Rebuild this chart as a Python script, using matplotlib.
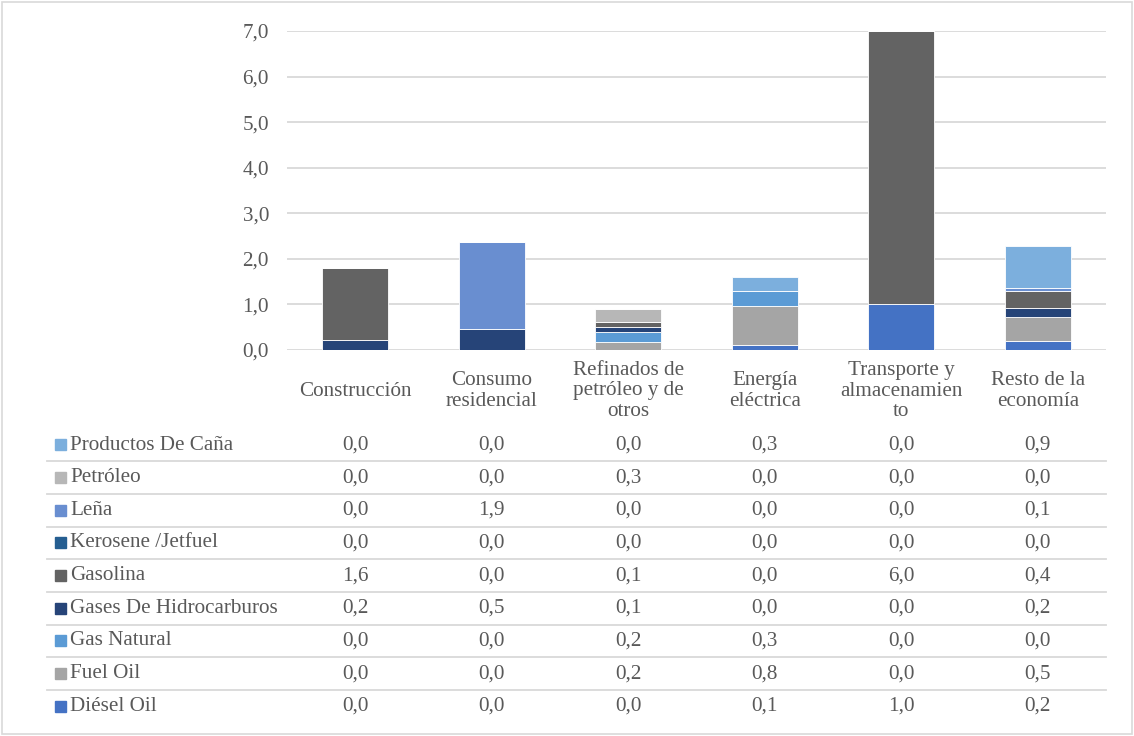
import matplotlib
matplotlib.use("Agg")
import matplotlib.pyplot as plt
from matplotlib.patches import Rectangle
import numpy as np

# categories (x) and fuel series, stacked bottom -> top
categories = ["Construcción", "Consumo\nresidencial", "Refinados de\npetróleo y de\notros",
              "Energía\neléctrica", "Transporte y\nalmacenamien\nto", "Resto de la\neconomía"]

diesel_oil = [0.0, 0.0, 0.0, 0.12, 1.0, 0.2]
fuel_oil = [0.0, 0.0, 0.18, 0.84, 0.0, 0.53]
gas_natural = [0.0, 0.0, 0.21, 0.33, 0.0, 0.0]
gases_hidro = [0.23, 0.46, 0.12, 0.0, 0.0, 0.2]
gasolina = [1.57, 0.0, 0.11, 0.0, 6.0, 0.36]
kerosene = [0.0, 0.0, 0.0, 0.0, 0.0, 0.0]
lena = [0.0, 1.91, 0.0, 0.0, 0.0, 0.07]
petroleo = [0.0, 0.0, 0.29, 0.0, 0.0, 0.0]
productos_cana = [0.0, 0.0, 0.0, 0.31, 0.0, 0.93]

series_names = ["Diésel Oil", "Fuel Oil", "Gas Natural", "Gases De Hidrocarburos", "Gasolina",
                "Kerosene /Jetfuel", "Leña", "Petróleo", "Productos De Caña"]
series_vals = [diesel_oil, fuel_oil, gas_natural, gases_hidro, gasolina,
               kerosene, lena, petroleo, productos_cana]
colors = ["#4472C4", "#A5A5A5", "#5B9BD5", "#264478", "#636363",
          "#255E91", "#698ED0", "#B7B7B7", "#7CAFDD"]

TXT = "#595959"
GRID = "#D9D9D9"
FONT = ["Liberation Serif", "DejaVu Serif"]
FS = 15.2

W, H = 1134, 736
fig = plt.figure(figsize=(W / 100, H / 100), dpi=100)


def fy(py):
    return 1 - py / H


def fx(px):
    return px / W


# chart border
fig.patches.append(Rectangle((fx(2), fy(734)), fx(1130), 732 / H, transform=fig.transFigure,
                             fill=False, edgecolor=GRID, linewidth=1.2))

x0, x1, ytop, ybot = 287, 1106, 31, 350
ax = fig.add_axes([fx(x0), fy(ybot), fx(x1 - x0), (ybot - ytop) / H])

x = np.arange(len(categories))
bottom = np.zeros(len(categories))
for name, vals, c in zip(series_names, series_vals, colors):
    v = np.array(vals)
    ax.bar(x, v, bottom=bottom, width=0.48, color=c, edgecolor="white", linewidth=0.6, zorder=3)
    bottom += v

ax.set_xlim(-0.5, len(categories) - 0.5)
ax.set_ylim(0, 7)
ax.set_yticks(np.arange(0, 8, 1))
ax.set_yticklabels([f"{t:.1f}".replace(".", ",") for t in np.arange(0, 8, 1)],
                   fontsize=FS, color=TXT, family=FONT)
ax.tick_params(axis="y", length=0, pad=13)
ax.set_xticks([])
ax.grid(True, axis="y", color=GRID, linewidth=1.3, zorder=0)
for s in ax.spines.values():
    s.set_visible(False)

# category header row of the data table
for i, cat in enumerate(categories):
    px = x0 + (i + 0.5) * (x1 - x0) / len(categories)
    fig.text(fx(px), fy(391), cat, ha="center", va="center", fontsize=FS, color=TXT,
             family=FONT, linespacing=1.1)

# data table rows (reversed order, like the legend)
row_y0, row_h = 445, 32.65
col_w = (x1 - x0) / len(categories)
for r, k in enumerate(range(len(series_names) - 1, -1, -1)):
    cy = row_y0 + r * row_h
    fig.patches.append(Rectangle((fx(55), fy(cy + 5.5)), fx(11), 11 / H,
                                 transform=fig.transFigure, color=colors[k]))
    fig.text(fx(70), fy(cy), series_names[k], ha="left", va="center", fontsize=FS,
             color=TXT, family=FONT)
    for i, v in enumerate(series_vals[k]):
        px = x0 + (i + 0.5) * col_w
        fig.text(fx(px), fy(cy), f"{v:.1f}".replace(".", ","), ha="center", va="center",
                 fontsize=FS, color=TXT, family=FONT)
    if r < len(series_names) - 1:
        ly = cy + row_h / 2
        fig.add_artist(plt.Line2D([fx(47), fx(x1)], [fy(ly), fy(ly)], color=GRID,
                                  linewidth=1.3, transform=fig.transFigure))

fig.savefig("out.png", dpi=100)
